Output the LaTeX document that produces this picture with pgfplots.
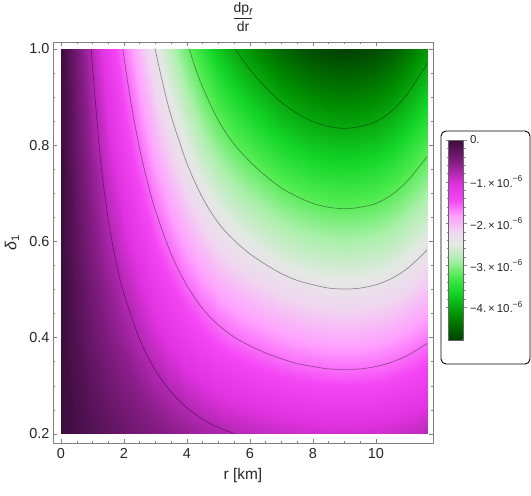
\documentclass[border=0pt]{standalone}
\usepackage{fontspec}
\setmainfont{Liberation Sans}
\usepackage{amsmath}
\usepackage{pgfplots}
\pgfplotsset{compat=1.18}

% purple -> white -> green, Mathematica-like density gradient
\pgfplotsset{
  colormap={pinkgreen}{[1cm]
    rgb255(0cm)=(0,65,0) rgb255(12cm)=(0,140,0) rgb255(24cm)=(20,215,40)
    rgb255(32cm)=(80,235,80) rgb255(40cm)=(170,240,170) rgb255(48cm)=(228,232,228)
    rgb255(54cm)=(240,215,240) rgb255(62cm)=(255,160,255) rgb255(70cm)=(245,70,245)
    rgb255(78cm)=(225,50,225) rgb255(88cm)=(140,30,140) rgb255(100cm)=(61,13,61)},
  cline/.style={black, opacity=0.38, line width=0.7bp, smooth},
}
\newcommand{\sci}[1]{−#1.\,×\,10.\raisebox{0.5em}{\fontsize{8.5}{9}\selectfont −6}}

\begin{document}
\begin{tikzpicture}
\begin{axis}[
  name=main,
  width=380bp, height=401bp, scale only axis,
  xmin=-0.254, xmax=11.81, ymin=0.181, ymax=1.0146,
  xtick={0,2,...,10}, ytick={0.2,0.4,0.6,0.8,1.0},
  minor x tick num=3, minor y tick num=3,
  tick align=inside, major tick length=4.5bp, minor tick length=2.5bp,
  axis line style={black!50}, tick style={black!50, line width=0.5bp},
  ticklabel style={font=\fontsize{14.5}{16}\selectfont, text=black!85},
  /pgf/number format/assume math mode=true,
  yticklabel style={/pgf/number format/fixed, /pgf/number format/fixed zerofill,
                    /pgf/number format/precision=1},
  xticklabel style={yshift=-2bp},
  xlabel={r [km]}, ylabel={\textit{δ}\textsubscript{1}},
  xlabel style={at={(axis description cs:0.5,-0.0823)}, anchor=center,
                font=\fontsize{15.5}{17}\selectfont, text=black!85},
  ylabel style={at={(axis description cs:-0.108,0.5)}, anchor=center,
                font=\fontsize{16}{18}\selectfont, text=black!85},
  colormap name=pinkgreen,
  point meta min=-4.79, point meta max=0,
  colorbar,
  colorbar style={
    at={(parent axis.north east)}, anchor=north west,
    xshift=7bp, yshift=-98bp,
    width=15bp, height=200bp, scale only axis,
    ytick={-4,-3,-2,-1,0},
    yticklabels={\sci{4}, \sci{3}, \sci{2}, \sci{1}, 0.},
    minor y tick num=4,
    tick align=outside, major tick length=3bp, minor tick length=2bp,
    axis line style={black!60}, tick style={black!45},
    yticklabel style={font=\fontsize{11.5}{13}\selectfont, text=black!85},
  },
]
% dp_f/dr in units of 1e-6, rows delta = 0.2 ... 1.0
\addplot[surf, shader=interp, mesh/rows=5, mesh/cols=25, point meta=explicit] coordinates {
(0,0.2)[0] (0.5,0.2)[-0.084] (1,0.2)[-0.166] (1.5,0.2)[-0.248] (2,0.2)[-0.326] (2.5,0.2)[-0.404] (3,0.2)[-0.482] (3.5,0.2)[-0.558] (4,0.2)[-0.630] (4.5,0.2)[-0.696] (5,0.2)[-0.752] (5.5,0.2)[-0.798] (6,0.2)[-0.836] (6.5,0.2)[-0.870] (7,0.2)[-0.900] (7.5,0.2)[-0.924] (8,0.2)[-0.942] (8.5,0.2)[-0.954] (9,0.2)[-0.958] (9.5,0.2)[-0.954] (10,0.2)[-0.942] (10.5,0.2)[-0.918] (11,0.2)[-0.882] (11.5,0.2)[-0.836] (11.62,0.2)[-0.824]
(0,0.4)[0] (0.5,0.4)[-0.168] (1,0.4)[-0.332] (1.5,0.4)[-0.496] (2,0.4)[-0.652] (2.5,0.4)[-0.808] (3,0.4)[-0.964] (3.5,0.4)[-1.116] (4,0.4)[-1.260] (4.5,0.4)[-1.392] (5,0.4)[-1.504] (5.5,0.4)[-1.596] (6,0.4)[-1.672] (6.5,0.4)[-1.740] (7,0.4)[-1.800] (7.5,0.4)[-1.848] (8,0.4)[-1.884] (8.5,0.4)[-1.908] (9,0.4)[-1.916] (9.5,0.4)[-1.908] (10,0.4)[-1.884] (10.5,0.4)[-1.836] (11,0.4)[-1.764] (11.5,0.4)[-1.672] (11.62,0.4)[-1.648]
(0,0.6)[0] (0.5,0.6)[-0.252] (1,0.6)[-0.498] (1.5,0.6)[-0.744] (2,0.6)[-0.978] (2.5,0.6)[-1.212] (3,0.6)[-1.446] (3.5,0.6)[-1.674] (4,0.6)[-1.890] (4.5,0.6)[-2.088] (5,0.6)[-2.256] (5.5,0.6)[-2.394] (6,0.6)[-2.508] (6.5,0.6)[-2.610] (7,0.6)[-2.700] (7.5,0.6)[-2.772] (8,0.6)[-2.826] (8.5,0.6)[-2.862] (9,0.6)[-2.874] (9.5,0.6)[-2.862] (10,0.6)[-2.826] (10.5,0.6)[-2.754] (11,0.6)[-2.646] (11.5,0.6)[-2.508] (11.62,0.6)[-2.472]
(0,0.8)[0] (0.5,0.8)[-0.336] (1,0.8)[-0.664] (1.5,0.8)[-0.992] (2,0.8)[-1.304] (2.5,0.8)[-1.616] (3,0.8)[-1.928] (3.5,0.8)[-2.232] (4,0.8)[-2.520] (4.5,0.8)[-2.784] (5,0.8)[-3.008] (5.5,0.8)[-3.192] (6,0.8)[-3.344] (6.5,0.8)[-3.480] (7,0.8)[-3.600] (7.5,0.8)[-3.696] (8,0.8)[-3.768] (8.5,0.8)[-3.816] (9,0.8)[-3.832] (9.5,0.8)[-3.816] (10,0.8)[-3.768] (10.5,0.8)[-3.672] (11,0.8)[-3.528] (11.5,0.8)[-3.344] (11.62,0.8)[-3.296]
(0,1.0)[0] (0.5,1.0)[-0.42] (1,1.0)[-0.83] (1.5,1.0)[-1.24] (2,1.0)[-1.63] (2.5,1.0)[-2.02] (3,1.0)[-2.41] (3.5,1.0)[-2.79] (4,1.0)[-3.15] (4.5,1.0)[-3.48] (5,1.0)[-3.76] (5.5,1.0)[-3.99] (6,1.0)[-4.18] (6.5,1.0)[-4.35] (7,1.0)[-4.50] (7.5,1.0)[-4.62] (8,1.0)[-4.71] (8.5,1.0)[-4.77] (9,1.0)[-4.79] (9.5,1.0)[-4.77] (10,1.0)[-4.71] (10.5,1.0)[-4.59] (11,1.0)[-4.41] (11.5,1.0)[-4.18] (11.62,1.0)[-4.12]
};
% contour lines at -0.8, -1.6, -2.4, -3.2, -4.0 (x 1e-6)
\addplot[cline] coordinates {(0.963,1.0) (1.0,0.964) (1.25,0.773) (1.5,0.645) (1.75,0.557) (2.0,0.491) (2.5,0.396) (3.0,0.332) (3.5,0.287) (4.0,0.254) (4.5,0.230) (5.0,0.213) (5.53,0.2)};
\addplot[cline] coordinates {(1.962,1.0) (2.0,0.982) (2.25,0.877) (2.5,0.792) (2.75,0.722) (3.0,0.664) (3.5,0.573) (4.0,0.508) (4.5,0.460) (5.0,0.426) (5.5,0.401) (6.0,0.383) (6.5,0.368) (7.0,0.356) (7.5,0.346) (8.0,0.340) (8.5,0.335) (9.0,0.334) (9.5,0.335) (10.0,0.340) (10.5,0.349) (11.0,0.363) (11.5,0.383) (11.62,0.388)};
\addplot[cline] coordinates {(2.987,1.0) (3.0,0.996) (3.25,0.923) (3.5,0.860) (4.0,0.762) (4.5,0.690) (5.0,0.638) (5.5,0.602) (6.0,0.574) (6.5,0.552) (7.0,0.533) (7.5,0.519) (8.0,0.510) (8.5,0.503) (9.0,0.501) (9.5,0.503) (10.0,0.510) (10.5,0.523) (11.0,0.544) (11.5,0.574) (11.62,0.583)};
\addplot[cline] coordinates {(4.076,1.0) (4.25,0.964) (4.5,0.920) (5.0,0.851) (5.5,0.802) (6.0,0.766) (6.5,0.736) (7.0,0.711) (7.5,0.693) (8.0,0.679) (8.5,0.671) (9.0,0.668) (9.5,0.671) (10.0,0.679) (10.5,0.697) (11.0,0.726) (11.5,0.766) (11.62,0.777)};
\addplot[cline] coordinates {(5.526,1.0) (6.0,0.957) (6.5,0.920) (7.0,0.889) (7.5,0.866) (8.0,0.849) (8.5,0.839) (9.0,0.835) (9.5,0.839) (10.0,0.849) (10.5,0.871) (11.0,0.907) (11.5,0.957) (11.62,0.971)};
\end{axis}
% title
\node[font=\fontsize{14}{16}\selectfont, text=black!85] at ([yshift=25bp]main.north) {$\dfrac{\text{dp}_{\textit{f}}}{\text{dr}}$};
% legend frame around the colour bar
\draw[black, line width=0.9bp, rounded corners=5bp]
  ([shift={(8bp,-89bp)}]main.north east) rectangle ([shift={(97bp,-322bp)}]main.north east);
\pgfresetboundingbox
\useasboundingbox ([shift={(-53bp,42bp)}]main.north west) rectangle ([shift={(98bp,-53bp)}]main.south east);
\end{tikzpicture}
\end{document}
